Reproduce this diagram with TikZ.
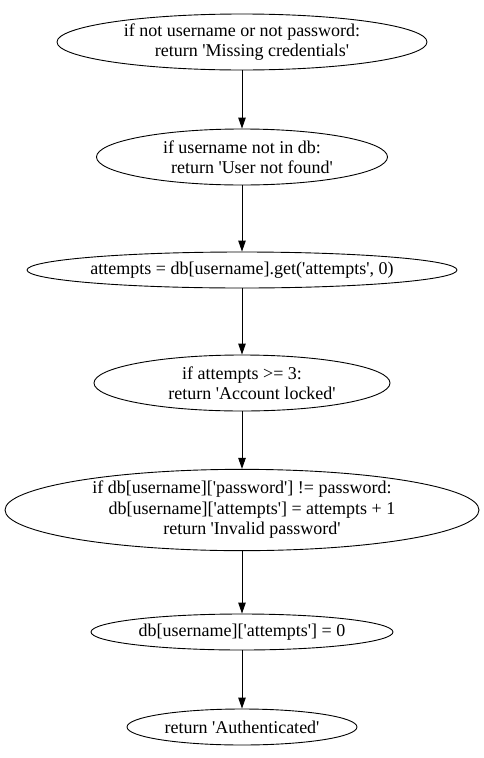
\documentclass[tikz,border=0pt]{standalone}
\usepackage{fontspec}
\setmainfont{Liberation Serif}[Ligatures=TeXOff]
\usetikzlibrary{arrows.meta,shapes.geometric}
\newcommand{\ind}{\hspace*{20pt}}
\begin{document}
\begin{tikzpicture}[x=1pt,y=-1pt,line cap=round,line join=round,>={Triangle[length=11pt,width=7.5pt]},
  blk/.style={ellipse,draw,line width=0.9pt,inner sep=0pt,align=center,font=\fontsize{18}{20.5}\selectfont}]
\useasboundingbox (0,0) rectangle (484,758);
\node[blk,minimum width=370pt,minimum height=56pt] (cred) at (242,42) {if not username or not password:\\\ind return 'Missing credentials'};
\node[blk,minimum width=291pt,minimum height=56pt] (user) at (242,157) {if username not in db:\\\ind return 'User not found'};
\node[blk,minimum width=430pt,minimum height=36pt] (att) at (242,270) {attempts = db[username].get('attempts', 0)};
\node[blk,minimum width=296pt,minimum height=56pt] (lock) at (242,383) {if attempts >= 3:\\\ind return 'Account locked'};
\node[blk,minimum width=474pt,minimum height=80pt] (pwd) at (242,510) {if db[username]['password'] != password:\\\ind db[username]['attempts'] = attempts + 1\\\ind return 'Invalid password'};
\node[blk,minimum width=302pt,minimum height=36pt] (reset) at (242,632) {db[username]['attempts'] = 0};
\node[blk,minimum width=230pt,minimum height=36pt] (ok) at (242,727) {return 'Authenticated'};
% edges
\draw [->,line width=0.9pt] (cred) -- (user);
\draw [->,line width=0.9pt] (user) -- (att);
\draw [->,line width=0.9pt] (att) -- (lock);
\draw [->,line width=0.9pt] (lock) -- (pwd);
\draw [->,line width=0.9pt] (pwd) -- (reset);
\draw [->,line width=0.9pt] (reset) -- (ok);
\end{tikzpicture}
\end{document}
